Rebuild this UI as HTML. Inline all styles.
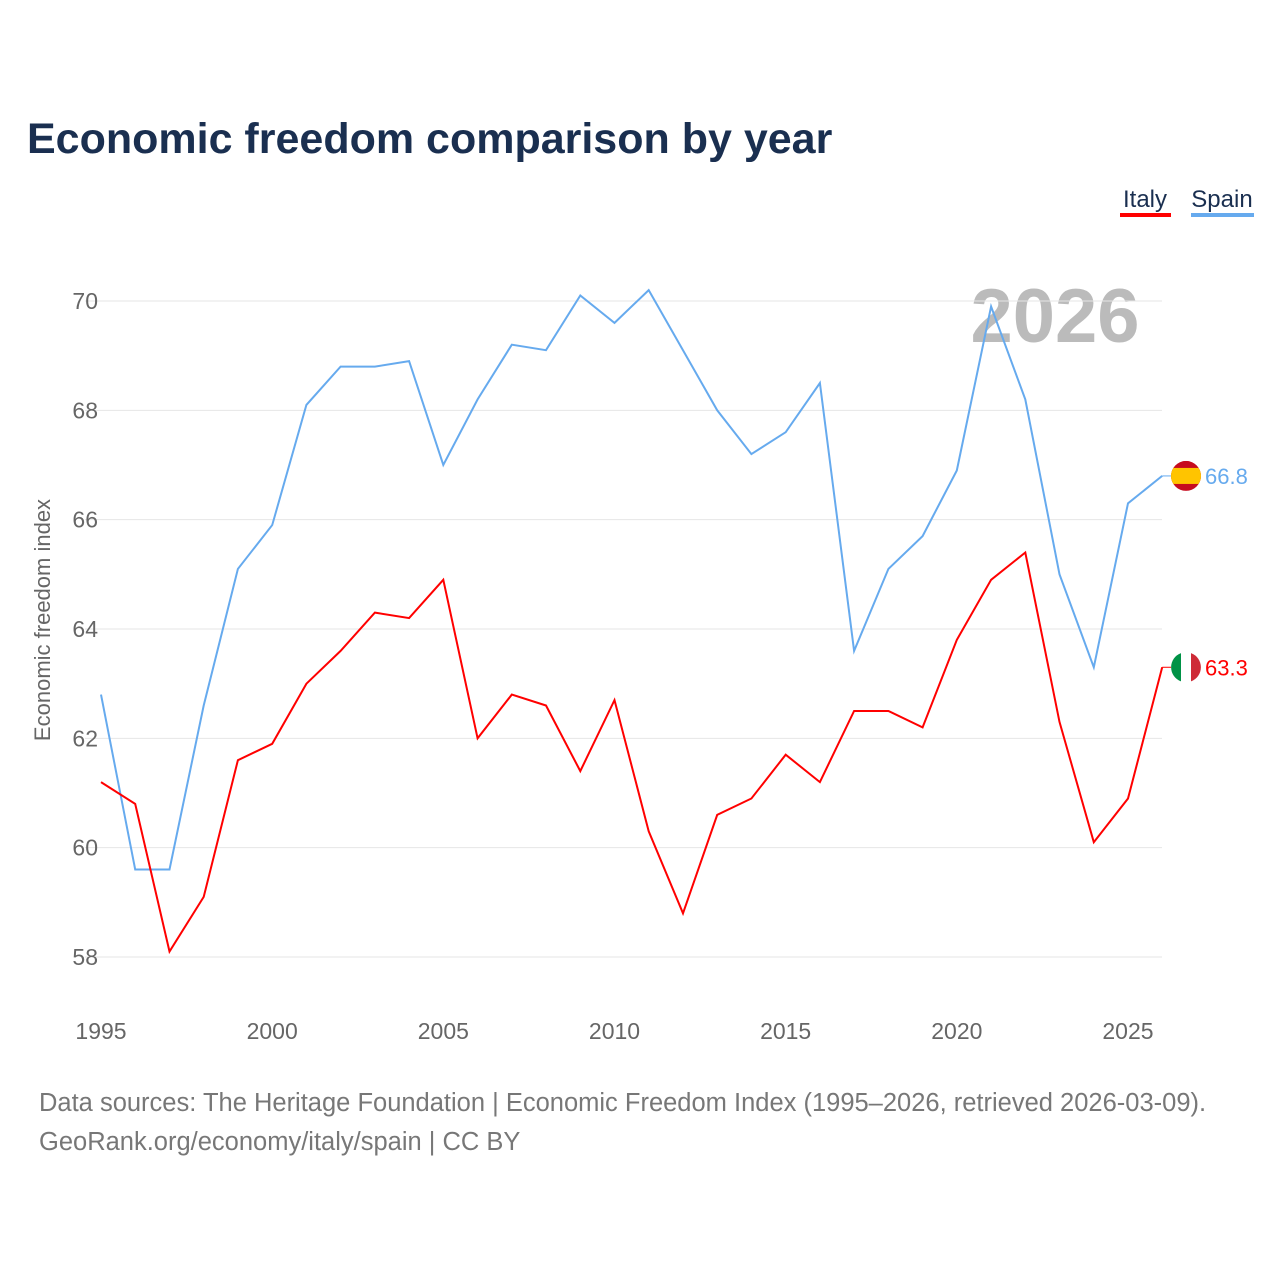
<!DOCTYPE html>
<html><head><meta charset="utf-8"><style>
body{margin:0;background:#fff;font-family:"Liberation Sans",sans-serif}
svg text{font-family:"Liberation Sans",sans-serif}
</style></head><body>
<svg id="chart" width="1280" height="1280">
<defs><clipPath id="fc"><circle cx="1186" cy="476" r="15"/></clipPath></defs>
<text x="27" y="153" font-size="43" font-weight="bold" fill="#1a2f50">Economic freedom comparison by year</text>
<g><text x="1145" y="207" font-size="24" fill="#1a2f50" text-anchor="middle">Italy</text><rect x="1120" y="213" width="51" height="4" fill="#ff0000"/></g>
<g><text x="1222" y="207" font-size="24" fill="#1a2f50" text-anchor="middle">Spain</text><rect x="1191" y="213" width="63" height="4" fill="#66aaee"/></g>
<text x="1055" y="342" font-size="76" font-weight="bold" fill="#bbbbbb" text-anchor="middle">2026</text>
<text transform="translate(50,620) rotate(-90)" font-size="22" fill="#666" text-anchor="middle">Economic freedom index</text>
<g id="grid"></g><g id="series"></g>
<text x="39" y="1111" font-size="25.5" fill="#777">Data sources: The Heritage Foundation | Economic Freedom Index (1995–2026, retrieved 2026-03-09).</text>
<text x="39" y="1150" font-size="25.5" fill="#777">GeoRank.org/economy/italy/spain | CC BY</text>
</svg>
<script>
const years=[];for(let y=1995;y<=2026;y++)years.push(y);
const spain=[62.8,59.6,59.6,62.6,65.1,65.9,68.1,68.8,68.8,68.9,67.0,68.2,69.2,69.1,70.1,69.6,70.2,69.1,68.0,67.2,67.6,68.5,63.6,65.1,65.7,66.9,69.9,68.2,65.0,63.3,66.3,66.8];
const italy=[61.2,60.8,58.1,59.1,61.6,61.9,63.0,63.6,64.3,64.2,64.9,62.0,62.8,62.6,61.4,62.7,60.3,58.8,60.6,60.9,61.7,61.2,62.5,62.5,62.2,63.8,64.9,65.4,62.3,60.1,60.9,63.3];
const yTicks=[58,60,62,64,66,68,70];
const xTicks=[1995,2000,2005,2010,2015,2020,2025];
const X=y=>101+(y-1995)*34.233, Y=v=>301+(70-v)*54.667;
const NS="http://www.w3.org/2000/svg";
const g=document.getElementById('grid'),s=document.getElementById('series');
function mk(tag,at,p){const e=document.createElementNS(NS,tag);for(const k in at)e.setAttribute(k,at[k]);p.appendChild(e);return e;}
yTicks.forEach(v=>{
 const l=mk('line',{x1:85,x2:1162,y1:Y(v),y2:Y(v),stroke:'#e6e6e6','stroke-width':1},g);
 
 
 const t=mk('text',{x:98,y:Y(v)+8,'font-size':23,fill:'#666','text-anchor':'end'},g);t.textContent=v;
 
 
});
xTicks.forEach(v=>{
 const t=mk('text',{x:X(v),y:1039,'font-size':23,fill:'#666','text-anchor':'middle'},g);t.textContent=v;
 
 
});
function line(vals,col,name){
 const p=mk('path',{d:vals.map((v,i)=>(i?'L':'M')+X(years[i]).toFixed(1)+','+Y(v).toFixed(1)).join(''),fill:'none',stroke:col,'stroke-width':2},s);
 
 
 const last=vals[vals.length-1],ly=Y(last);
 mk('line',{x1:X(2026),x2:1172,y1:ly,y2:ly,stroke:col,'stroke-width':1},s);
 const t=mk('text',{x:1205,y:ly+8,'font-size':22,fill:col},s);t.textContent=last.toFixed(1);
 
 
 return ly;
}
const sy=line(spain,'#66aaee','spain'), iy=line(italy,'#ff0000','italy');
document.querySelector('#fc circle').setAttribute('cy',sy);
const fs=mk('g',{'clip-path':'url(#fc)'},s);


mk('rect',{x:1171,y:sy-15,width:30,height:30,fill:'#c60b1e'},fs);
mk('rect',{x:1171,y:sy-8,width:30,height:16,fill:'#ffc400'},fs);
const fi=mk('g',{},s);


mk('circle',{cx:1186,cy:iy,r:15,fill:'#ffffff'},fi);
mk('path',{d:`M1181,${iy-14.1}A15,15 0 0 0 1181,${iy+14.1}Z`,fill:'#009246'},fi);
mk('path',{d:`M1191,${iy-14.1}A15,15 0 0 1 1191,${iy+14.1}Z`,fill:'#ce2b37'},fi);
</script>
</body></html>
